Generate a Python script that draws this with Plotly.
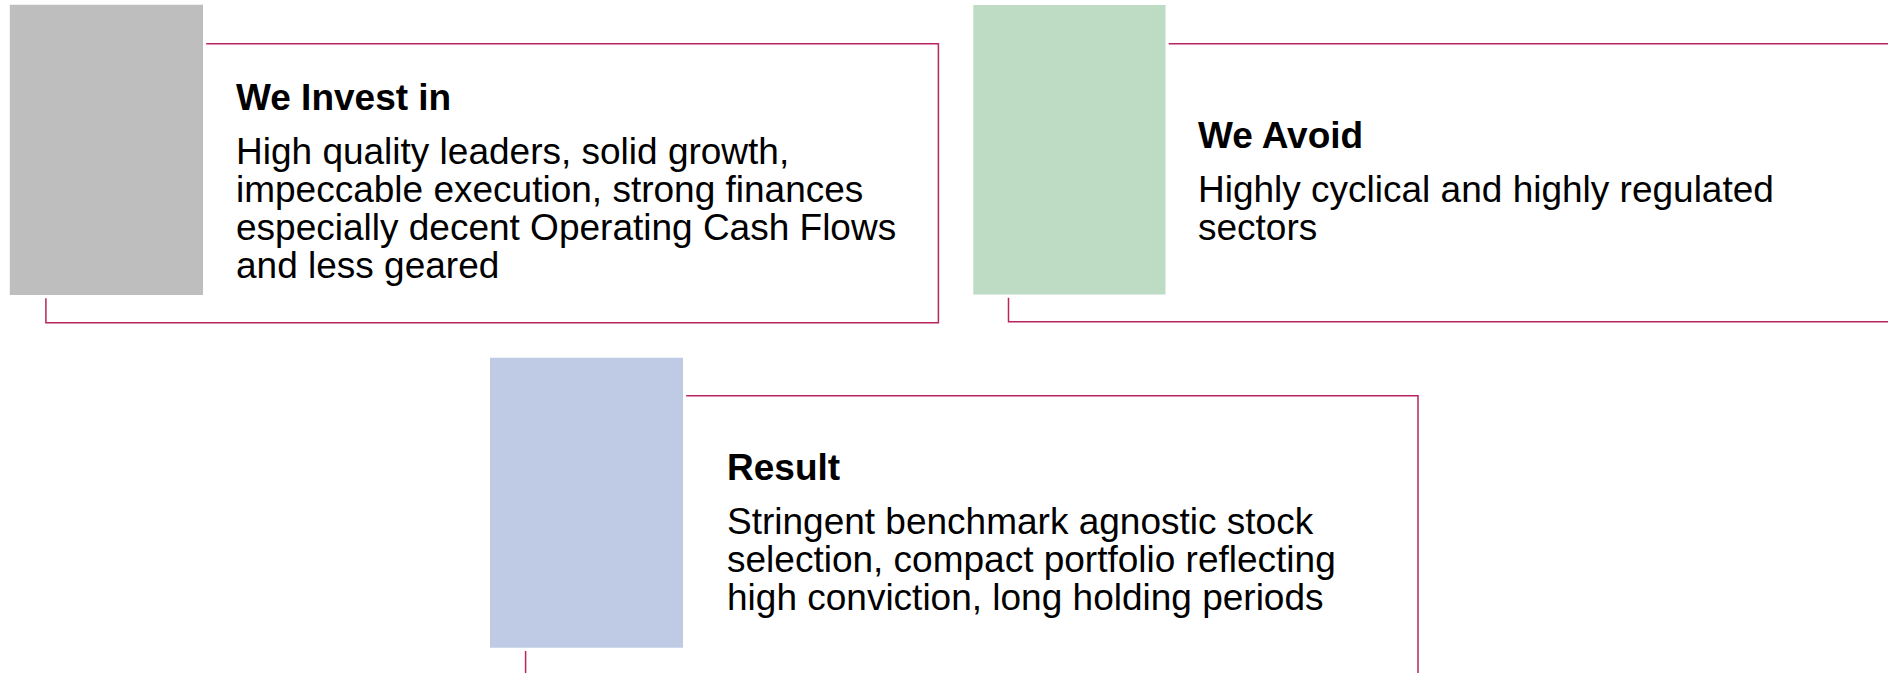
import plotly.graph_objects as go

# ---- content ----
titles = ["We Invest in", "We Avoid", "Result"]
body_lines = [
    ["High quality leaders, solid growth,",
     "impeccable execution, strong finances",
     "especially decent Operating Cash Flows",
     "and less geared"],
    ["Highly cyclical and highly regulated",
     "sectors"],
    ["Stringent benchmark agnostic stock",
     "selection, compact portfolio reflecting",
     "high conviction, long holding periods"],
]

# ---- layout (pixel space, y downward) ----
W, H = 1888, 673
block_colors = ["#BEBEBE", "#BDDCC3", "#BFCAE5"]
block_x = [(9.8, 203.0), (973.3, 1165.5), (490.0, 683.0)]
block_y = [(4.7, 295.0), (5.0, 294.5), (357.8, 647.8)]
frame_x = [(45.9, 938.4), (1008.5, 1960.0), (525.6, 1418.0)]
frame_y = [(43.7, 322.7), (43.7, 321.8), (395.7, 720.0)]
text_x = [235.0, 1197.0, 726.0]
title_base = [110.0, 148.0, 480.0]
FS = 37
GAP_FIRST = 54
LINE_H = 38
GAP = 3.2
LINE_COLOR = "#B8255F"
FONT = "Liberation Sans, Arial, Helvetica, sans-serif"

fig = go.Figure()
fig.add_trace(go.Scatter(x=[0, W], y=[0, H], mode="markers",
                         marker=dict(opacity=0), hoverinfo="skip", showlegend=False))

shapes = []
annotations = []
for i in range(len(titles)):
    fx0, fx1 = frame_x[i]
    fy0, fy1 = frame_y[i]
    shapes.append(dict(type="rect", xref="x", yref="y", x0=fx0, x1=fx1, y0=fy0, y1=fy1,
                       line=dict(color=LINE_COLOR, width=1.5), fillcolor="rgba(0,0,0,0)",
                       layer="above"))
    bx0, bx1 = block_x[i]
    by0, by1 = block_y[i]
    shapes.append(dict(type="rect", xref="x", yref="y", x0=bx0 - GAP, x1=bx1 + GAP,
                       y0=by0 - GAP, y1=by1 + GAP, line=dict(width=0),
                       fillcolor="white", layer="above"))
    shapes.append(dict(type="rect", xref="x", yref="y", x0=bx0, x1=bx1, y0=by0, y1=by1,
                       line=dict(width=0), fillcolor=block_colors[i], layer="above"))

    off = 0.3465 * FS
    annotations.append(dict(x=text_x[i], y=title_base[i] - off, xref="x", yref="y",
                            text="<b>%s</b>" % titles[i], showarrow=False,
                            xanchor="left", yanchor="middle", borderpad=0,
                            font=dict(family=FONT, size=FS, color="black")))
    for j, line in enumerate(body_lines[i]):
        base = title_base[i] + GAP_FIRST + LINE_H * j
        annotations.append(dict(x=text_x[i], y=base - off, xref="x", yref="y",
                                text=line, showarrow=False,
                                xanchor="left", yanchor="middle", borderpad=0,
                                font=dict(family=FONT, size=FS, color="black")))

fig.update_layout(
    width=W, height=H, autosize=False,
    margin=dict(l=0, r=0, t=0, b=0, pad=0),
    paper_bgcolor="white", plot_bgcolor="white",
    xaxis=dict(range=[0, W], visible=False, fixedrange=True),
    yaxis=dict(range=[H, 0], visible=False, fixedrange=True),
    shapes=shapes, annotations=annotations, showlegend=False,
)

fig.write_html("out.html", config={"displayModeBar": False, "staticPlot": True},
               post_script="document.body.style.margin='0';document.body.style.overflow='hidden';")
